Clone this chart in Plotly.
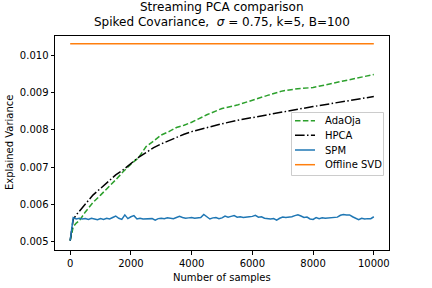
import plotly.graph_objects as go

# Smooth curves sampled points
x_smooth = [0, 100, 200, 300, 500, 750, 1000, 1250, 1500, 1750, 2000, 2250, 2500, 2750,
            3000, 3250, 3500, 3750, 4000, 4500, 5000, 5500, 6000, 6500, 7000, 7500,
            8000, 8500, 9000, 9500, 10000]
adaoja = [0.00503, 0.00540, 0.00550, 0.00556, 0.00580, 0.00605, 0.00625, 0.00645, 0.00666,
          0.00688, 0.00708, 0.00725, 0.00755, 0.00770, 0.00786, 0.00795, 0.00806, 0.00812,
          0.00820, 0.00840, 0.00857, 0.00866, 0.00880, 0.00892, 0.00904, 0.00910, 0.00913,
          0.00922, 0.00932, 0.00940, 0.00948]
hpca = [0.00503, 0.00560, 0.00572, 0.00582, 0.00600, 0.00625, 0.00643, 0.00662, 0.00679,
        0.00693, 0.00710, 0.00726, 0.00739, 0.00752, 0.00762, 0.00771, 0.00780, 0.00788,
        0.00795, 0.00806, 0.00816, 0.00825, 0.00833, 0.00840, 0.00848, 0.00855, 0.00862,
        0.00869, 0.00876, 0.00883, 0.00889]

x_spm = list(range(0, 10001, 100))
spm = [
    0.00503, 0.00565, 0.00561, 0.00563, 0.00561, 0.00562, 0.00560, 0.00563, 0.00561, 0.00559,
    0.00562, 0.00560, 0.00563, 0.00561, 0.00565, 0.00569, 0.00563, 0.00560, 0.00572, 0.00562,
    0.00567, 0.00570, 0.00561, 0.00563, 0.00561, 0.00562, 0.00561, 0.00562, 0.00558, 0.00562,
    0.00563, 0.00562, 0.00564, 0.00563, 0.00562, 0.00565, 0.00568, 0.00565, 0.00563, 0.00564,
    0.00565, 0.00563, 0.00563, 0.00565, 0.00573, 0.00566, 0.00561, 0.00564, 0.00565, 0.00562,
    0.00564, 0.00569, 0.00566, 0.00568, 0.00570, 0.00566, 0.00567, 0.00565, 0.00565, 0.00567,
    0.00568, 0.00571, 0.00566, 0.00567, 0.00563, 0.00562, 0.00561, 0.00562, 0.00558, 0.00563,
    0.00566, 0.00565, 0.00565, 0.00567, 0.00570, 0.00572, 0.00569, 0.00565, 0.00566, 0.00561,
    0.00560, 0.00565, 0.00562, 0.00564, 0.00563, 0.00564, 0.00564, 0.00565, 0.00566, 0.00571,
    0.00573, 0.00572, 0.00572, 0.00567, 0.00563, 0.00559, 0.00563, 0.00561, 0.00562, 0.00562,
    0.00567,
]

x_svd = [0, 10000]
offline_svd = [0.0103, 0.0103]

x_ticks = [0, 2000, 4000, 6000, 8000, 10000]
x_tick_labels = ["0", "2000", "4000", "6000", "8000", "10000"]
y_ticks = [0.005, 0.006, 0.007, 0.008, 0.009, 0.010]
y_tick_labels = ["0.005", "0.006", "0.007", "0.008", "0.009", "0.010"]

series_names = ["AdaOja", "HPCA", "SPM", "Offline SVD"]
series_colors = ["#2ca02c", "black", "#1f77b4", "#ff7f0e"]
series_dashes = ["5.5px,2.4px", "9.6px,2.4px,1.5px,2.4px", "solid", "solid"]

FONT = "DejaVu Sans"

# plot-area geometry in pixels (for legend placement)
L, R, T, B = 55, 43, 36, 38
W, H = 432, 288
PW, PH = W - L - R, H - T - B


def px_x(px):
    return (px - L) / PW


def px_y(py):
    return (H - B - py) / PH


fig = go.Figure()
xs = [x_smooth, x_smooth, x_spm, x_svd]
ys = [adaoja, hpca, spm, offline_svd]
for name, color, dash, xv, yv in zip(series_names, series_colors, series_dashes, xs, ys):
    fig.add_trace(go.Scatter(x=xv, y=yv, mode="lines", name=name, showlegend=False,
                             line=dict(color=color, width=1.5, dash=dash)))

# custom legend (matplotlib-like compact layout)
shapes = [dict(type="rect", xref="paper", yref="paper",
               x0=px_x(291.5), x1=px_x(383.5), y0=px_y(175.5), y1=px_y(112.5),
               line=dict(color="#cccccc", width=1), fillcolor="rgba(255,255,255,0.8)",
               layer="above")]
annotations = []
entry_y = [120.7, 135.3, 150.0, 164.7]
for name, color, dash, ey in zip(series_names, series_colors, series_dashes, entry_y):
    shapes.append(dict(type="line", xref="paper", yref="paper",
                       x0=px_x(295), x1=px_x(315), y0=px_y(ey), y1=px_y(ey),
                       line=dict(color=color, width=1.5, dash=dash), layer="above"))
    annotations.append(dict(text=name, xref="paper", yref="paper", x=px_x(322.5), y=px_y(ey),
                            xanchor="left", yanchor="middle", showarrow=False,
                            font=dict(family=FONT, size=10, color="black")))

annotations += [
    dict(text="Streaming PCA comparison", xref="paper", yref="paper",
         x=0.5, y=1, yshift=29, xanchor="center", yanchor="middle", showarrow=False,
         font=dict(family=FONT, size=12, color="black")),
    dict(text="Spiked Covariance,  <i>σ</i> = 0.75, k=5, B=100", xref="paper", yref="paper",
         x=0.5, y=1, yshift=14, xanchor="center", yanchor="middle", showarrow=False,
         font=dict(family=FONT, size=12, color="black")),
    dict(text="Number of samples", xref="paper", yref="paper",
         x=0.5, y=0, yshift=-27, xanchor="center", yanchor="middle", showarrow=False,
         font=dict(family=FONT, size=10, color="black")),
    dict(text="Explained Variance", xref="paper", yref="paper", textangle=-90,
         x=0, xshift=-46, y=0.5, xanchor="center", yanchor="middle", showarrow=False,
         font=dict(family=FONT, size=10, color="black")),
]

fig.update_layout(
    width=W, height=H,
    margin=dict(l=L, r=R, t=T, b=B, autoexpand=False),
    paper_bgcolor="white", plot_bgcolor="white",
    font=dict(family=FONT, size=10, color="black"),
    showlegend=False,
    xaxis=dict(range=[-500, 10500], tickvals=x_ticks, ticktext=x_tick_labels,
               ticks="outside", ticklen=3.5, automargin=False,
               tickcolor="black", showline=True, linecolor="black", linewidth=1,
               mirror=True, showgrid=False, zeroline=False),
    yaxis=dict(range=[0.00478, 0.01051], tickvals=y_ticks, ticktext=y_tick_labels,
               ticks="outside", ticklen=3.5, tickcolor="black", showline=True,
               automargin=False,
               linecolor="black", linewidth=1, mirror=True, showgrid=False,
               zeroline=False),
    shapes=shapes,
    annotations=annotations,
)

fig.write_html("out.html", config={"displayModeBar": False},
               post_script="document.body.style.margin='0';document.body.style.padding='0';")
